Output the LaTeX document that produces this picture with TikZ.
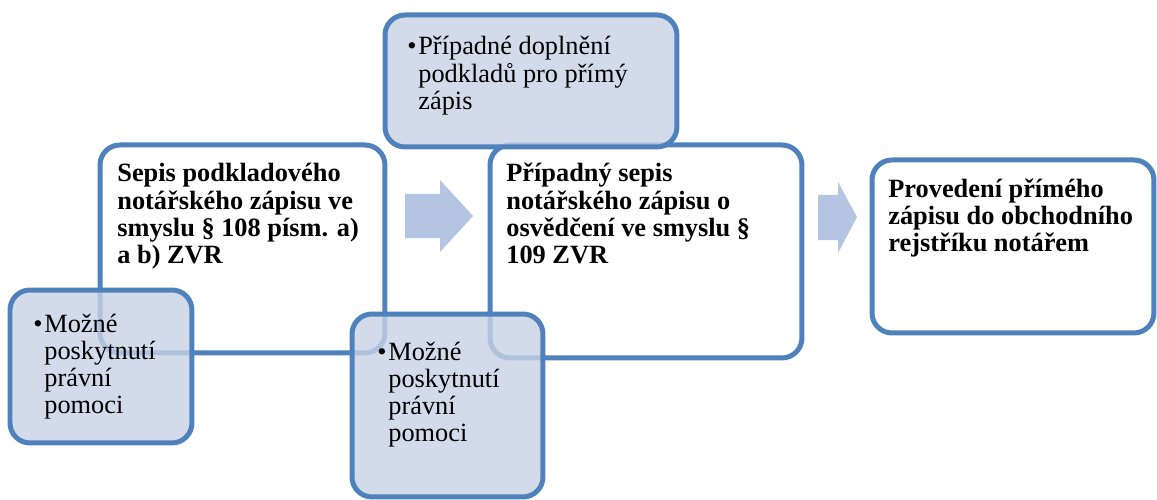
\documentclass[tikz,border=0pt]{standalone}
\usepackage{fontspec}
\setmainfont{Liberation Serif}
\usetikzlibrary{positioning}
\definecolor{frameblue}{RGB}{79,129,189}
\definecolor{noteblue}{RGB}{200,210,229}
\definecolor{arrowblue}{RGB}{180,197,225}
\newcommand{\bul}{\makebox[0.22cm][l]{\textbullet}}

\begin{document}
\begin{tikzpicture}[x=0.02cm, y=-0.02cm, font=\fontsize{15}{15.5}\selectfont,
    stepbox/.style={draw=frameblue, line width=0.1cm, rounded corners=0.4cm, fill=white,
      anchor=north west, inner sep=0, outer sep=0},
    notebox/.style={stepbox, fill=noteblue, fill opacity=0.8},
    label/.style={anchor=base west, inner sep=0},
    steptext/.style={label, font=\fontsize{15}{15.5}\selectfont\bfseries},
    flow/.style={fill=arrowblue}
]
  \useasboundingbox (0,0) rectangle (1157,500);

  % main steps
  \node[stepbox, minimum width=5.7cm, minimum height=4.16cm] (b1) at (100,145) {};
  \node[stepbox, minimum width=6.24cm, minimum height=4.26cm] (b2) at (490,145) {};
  \node[stepbox, minimum width=5.64cm, minimum height=3.46cm] (b3) at (872,160) {};

  % notes
  \node[notebox, minimum width=3.64cm, minimum height=3.06cm] (n1) at (10,290) {};
  \node[notebox, minimum width=3.82cm, minimum height=3.66cm] (n3) at (352,314) {};
  \node[notebox, minimum width=5.84cm, minimum height=2.64cm] (n2) at (385,15) {};

  % arrows
  \fill[flow] (405,194) -- (440,194) -- (440,180) -- (473,216) -- (440,252) -- (440,238) -- (405,238) -- cycle;
  \fill[flow] (818,195) -- (838,195) -- (838,182) -- (857,217) -- (838,253) -- (838,240) -- (818,240) -- cycle;

  % texts
  \node[steptext] (t1) at (117,182) {\begin{tabular}[t]{@{}l@{}}Sepis podkladového\\notářského zápisu ve\\smyslu § 108 písm. a)\\a b) ZVR\end{tabular}};
  \node[steptext] (t2) at (506,182) {\begin{tabular}[t]{@{}l@{}}Případný sepis\\notářského zápisu o\\osvědčení ve smyslu §\\109 ZVR\end{tabular}};
  \node[steptext] (t3) at (888,197) {\begin{tabular}[t]{@{}l@{}}Provedení přímého\\zápisu do obchodního\\rejstříku notářem\end{tabular}};

  \node[label] (m2) at (407,55) {\begin{tabular}[t]{@{}l@{}l@{}}\bul&Případné doplnění\\&podkladů pro přímý\\&zápis\end{tabular}};
  \node[label] (m1) at (33,332) {\begin{tabular}[t]{@{}l@{}l@{}}\bul&Možné\\&poskytnutí\\&právní\\&pomoci\end{tabular}};
  \node[label] (m3) at (377,360) {\begin{tabular}[t]{@{}l@{}l@{}}\bul&Možné\\&poskytnutí\\&právní\\&pomoci\end{tabular}};
\end{tikzpicture}
\end{document}
